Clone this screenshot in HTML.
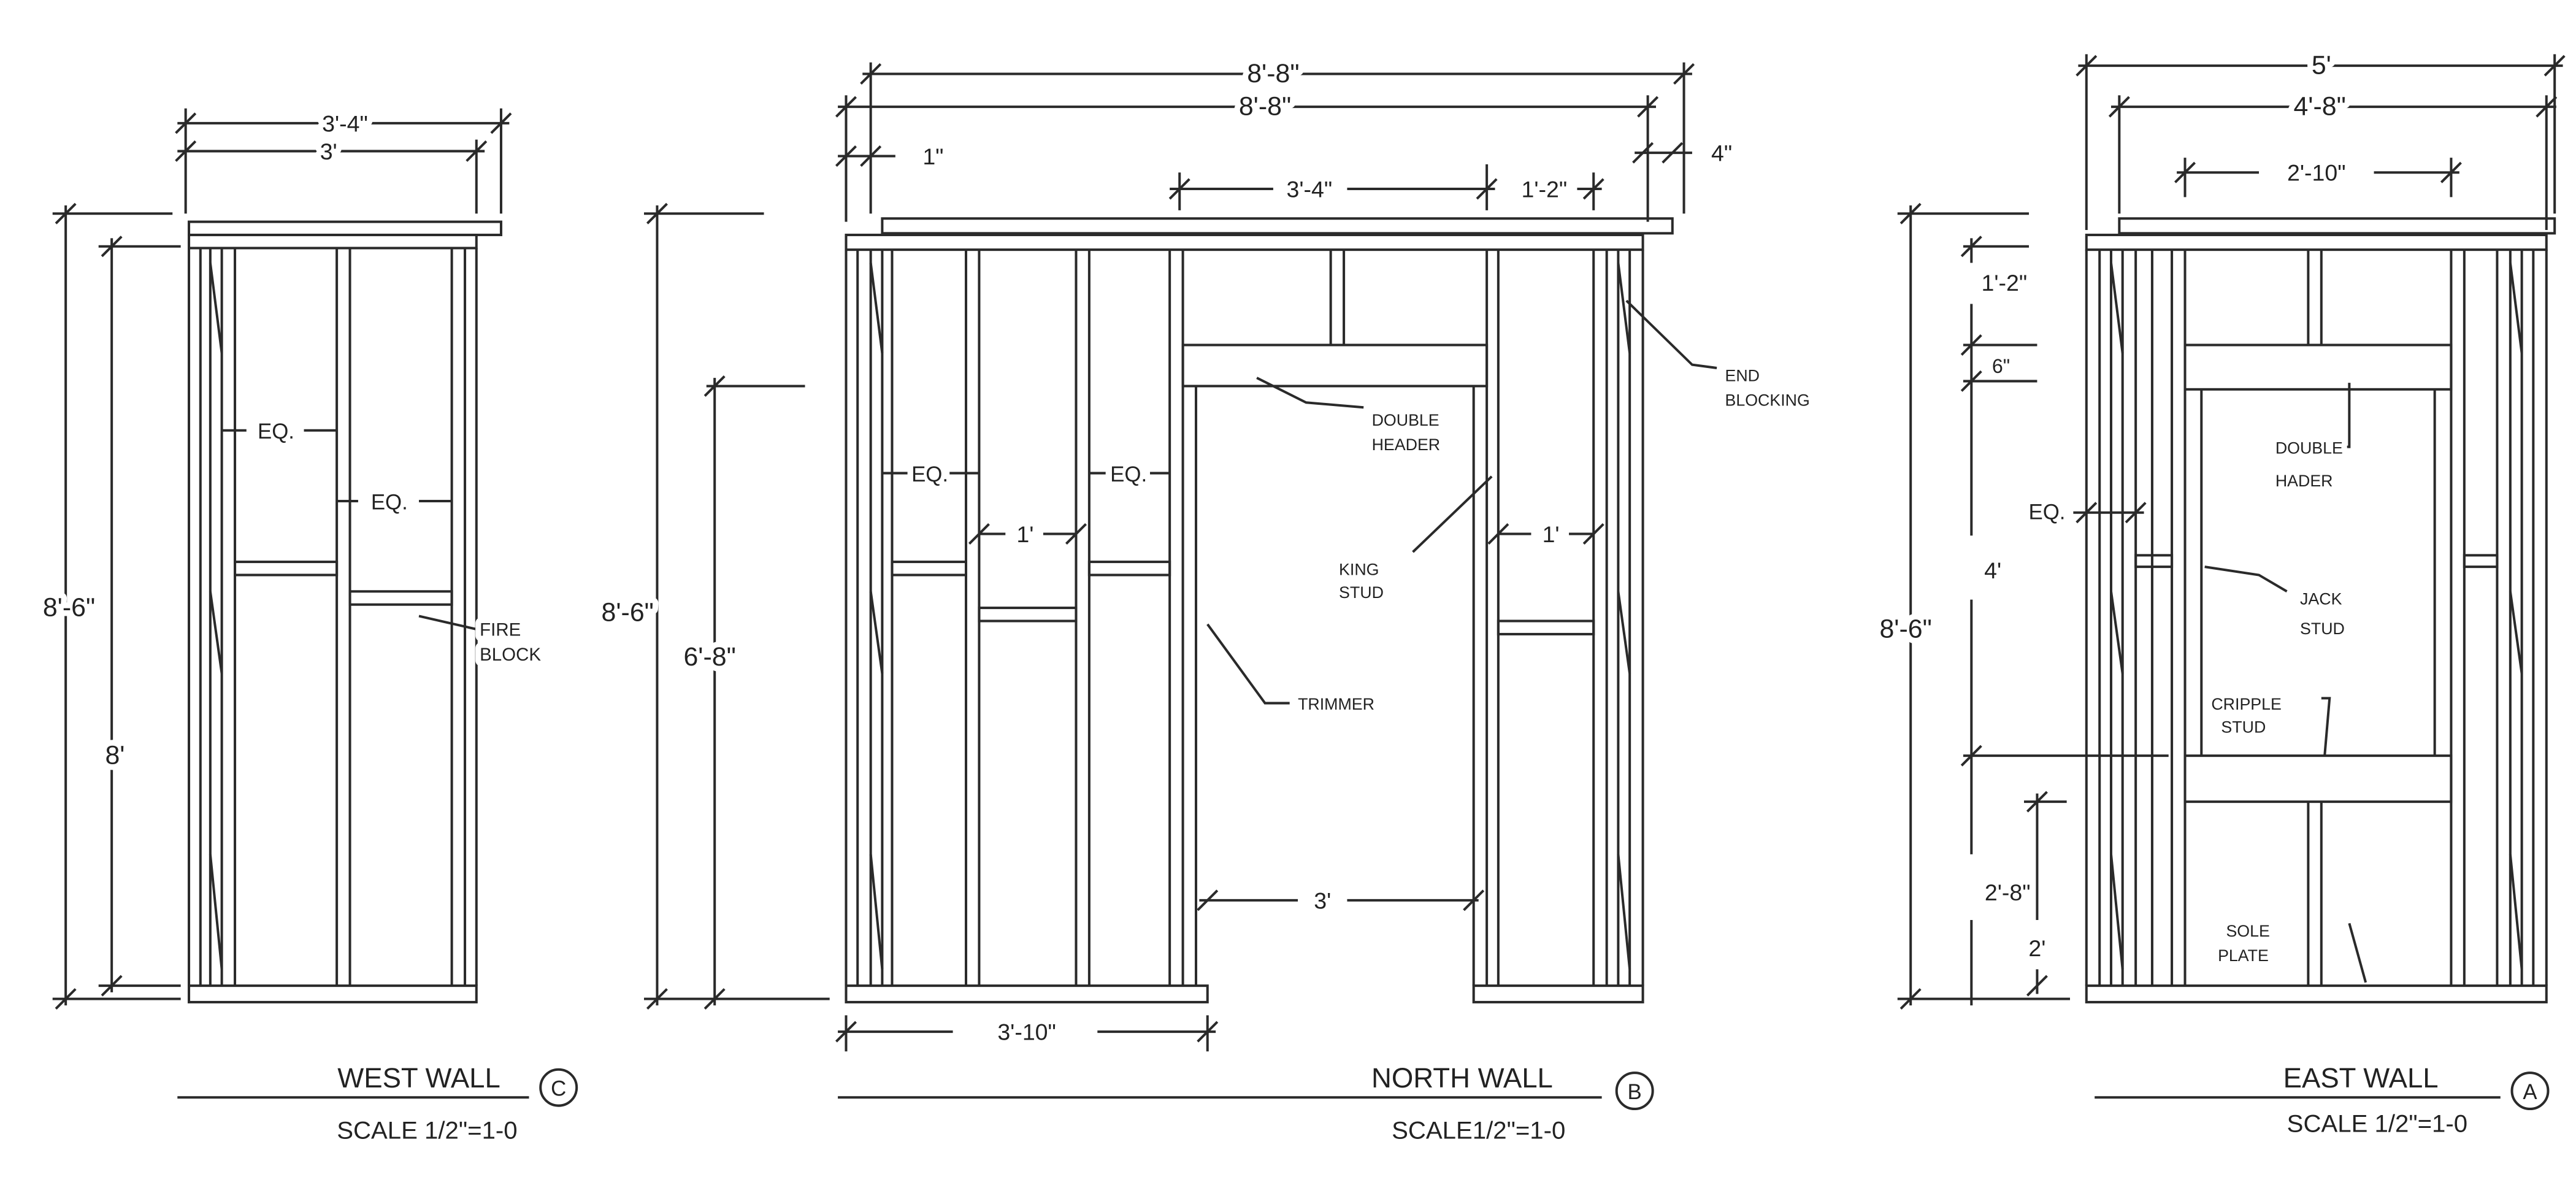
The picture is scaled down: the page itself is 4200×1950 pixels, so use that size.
<!DOCTYPE html>
<html><head><meta charset="utf-8"><style>
html,body{margin:0;padding:0;background:#fff;}
svg{display:block;}
text{font-family:"Liberation Sans",sans-serif;fill:#222;font-size:14px;stroke:#fff;stroke-width:7px;paint-order:stroke;stroke-linejoin:round;}
.t{text-anchor:middle;}
</style></head><body>
<svg width="4200" height="1950" viewBox="0 0 1568 728" xmlns="http://www.w3.org/2000/svg">
<rect width="1568" height="728" fill="#fff"/>
<g stroke="#2a2a2a" stroke-width="1.5" fill="none">
<!-- WEST WALL -->
<rect x="115" y="135" width="190" height="8"/>
<rect x="115" y="143" width="175" height="8"/>
<rect x="115" y="600" width="175" height="10"/>
<line x1="115" y1="151" x2="115" y2="600"/><line x1="122" y1="151" x2="122" y2="600"/>
<line x1="128" y1="151" x2="128" y2="600"/><line x1="135" y1="151" x2="135" y2="600"/>
<line x1="143" y1="151" x2="143" y2="600"/>
<line x1="205" y1="151" x2="205" y2="600"/><line x1="213" y1="151" x2="213" y2="600"/>
<line x1="275" y1="151" x2="275" y2="600"/><line x1="283" y1="151" x2="283" y2="600"/><line x1="290" y1="151" x2="290" y2="600"/>
<path d="M128 160 L135 215 M128 360 L135 410 M128 520 L135 590"/>
<rect x="143" y="342" width="62" height="8"/>
<rect x="213" y="360" width="62" height="8"/>
<line x1="108" y1="75" x2="310" y2="75"/><line x1="108" y1="92" x2="295" y2="92"/>
<line x1="113" y1="66" x2="113" y2="130"/><line x1="305" y1="66" x2="305" y2="130"/><line x1="290" y1="85" x2="290" y2="130"/>
<path d="M107 81 L119 69 M299 81 L311 69 M107 98 L119 86 M284 98 L296 86"/>
<line x1="40" y1="125" x2="40" y2="612"/><line x1="32" y1="130" x2="105" y2="130"/><line x1="32" y1="608" x2="110" y2="608"/>
<line x1="68" y1="145" x2="68" y2="604"/><line x1="60" y1="150" x2="110" y2="150"/><line x1="60" y1="600" x2="110" y2="600"/>
<path d="M34 136 L46 124 M34 614 L46 602 M62 156 L74 144 M62 606 L74 594"/>
<line x1="135" y1="262" x2="150" y2="262"/><line x1="185" y1="262" x2="205" y2="262"/>
<line x1="205" y1="305" x2="218" y2="305"/><line x1="255" y1="305" x2="275" y2="305"/>
<path d="M255 375 L290 383"/>
<line x1="108" y1="668" x2="322" y2="668"/>
<circle cx="340" cy="662" r="11"/>

<!-- NORTH WALL -->
<rect x="537" y="133" width="481" height="9"/>
<rect x="515" y="143" width="485" height="9"/>
<rect x="515" y="600" width="220" height="10"/>
<rect x="897" y="600" width="103" height="10"/>
<line x1="515" y1="152" x2="515" y2="600"/><line x1="522" y1="152" x2="522" y2="600"/>
<line x1="530" y1="152" x2="530" y2="600"/><line x1="537" y1="152" x2="537" y2="600"/><line x1="543" y1="152" x2="543" y2="600"/>
<path d="M530 160 L537 215 M530 360 L537 410 M530 520 L537 590"/>
<line x1="588" y1="152" x2="588" y2="600"/><line x1="596" y1="152" x2="596" y2="600"/>
<line x1="655" y1="152" x2="655" y2="600"/><line x1="663" y1="152" x2="663" y2="600"/>
<line x1="712" y1="152" x2="712" y2="600"/><line x1="720" y1="152" x2="720" y2="600"/><line x1="728" y1="235" x2="728" y2="600"/>
<rect x="720" y="210" width="185" height="25"/>
<line x1="810" y1="152" x2="810" y2="210"/><line x1="818" y1="152" x2="818" y2="210"/>
<line x1="897" y1="235" x2="897" y2="600"/><line x1="905" y1="152" x2="905" y2="600"/><line x1="912" y1="152" x2="912" y2="600"/>
<line x1="970" y1="152" x2="970" y2="600"/><line x1="978" y1="152" x2="978" y2="600"/>
<line x1="985" y1="152" x2="985" y2="600"/><line x1="992" y1="152" x2="992" y2="600"/><line x1="1000" y1="152" x2="1000" y2="600"/>
<path d="M985 160 L992 215 M985 360 L992 410 M985 520 L992 590"/>
<rect x="543" y="342" width="45" height="8"/>
<rect x="596" y="370" width="59" height="8"/>
<rect x="663" y="342" width="49" height="8"/>
<rect x="912" y="378" width="58" height="8"/>
<line x1="525" y1="45" x2="1030" y2="45"/><line x1="510" y1="65" x2="1008" y2="65"/>
<line x1="530" y1="38" x2="530" y2="130"/><line x1="1025" y1="38" x2="1025" y2="130"/>
<line x1="515" y1="58" x2="515" y2="135"/><line x1="1003" y1="58" x2="1003" y2="135"/>
<path d="M524 51 L536 39 M1019 51 L1031 39 M509 71 L521 59 M997 71 L1009 59"/>
<line x1="510" y1="95" x2="545" y2="95"/><path d="M509 101 L521 89 M524 101 L536 89"/>
<line x1="995" y1="93" x2="1030" y2="93"/><path d="M994 99 L1006 87 M1012 99 L1024 87"/>
<line x1="712" y1="115" x2="775" y2="115"/><line x1="820" y1="115" x2="910" y2="115"/><line x1="960" y1="115" x2="975" y2="115"/>
<line x1="718" y1="105" x2="718" y2="128"/><line x1="905" y1="100" x2="905" y2="128"/><line x1="970" y1="105" x2="970" y2="128"/>
<path d="M712 121 L724 109 M899 121 L911 109 M964 121 L976 109"/>
<line x1="400" y1="125" x2="400" y2="612"/><line x1="392" y1="130" x2="465" y2="130"/><line x1="392" y1="608" x2="505" y2="608"/>
<path d="M394 136 L406 124 M394 614 L406 602"/>
<line x1="435" y1="230" x2="435" y2="612"/><line x1="430" y1="235" x2="490" y2="235"/>
<path d="M429 241 L441 229 M429 614 L441 602"/>
<line x1="537" y1="288" x2="553" y2="288"/><line x1="578" y1="288" x2="596" y2="288"/>
<line x1="663" y1="288" x2="673" y2="288"/><line x1="700" y1="288" x2="712" y2="288"/>
<line x1="596" y1="325" x2="612" y2="325"/><line x1="635" y1="325" x2="655" y2="325"/>
<line x1="912" y1="325" x2="932" y2="325"/><line x1="955" y1="325" x2="970" y2="325"/>
<path d="M590 331 L602 319 M649 331 L661 319 M906 331 L918 319 M964 331 L976 319"/>
<line x1="730" y1="548" x2="790" y2="548"/><line x1="820" y1="548" x2="900" y2="548"/>
<path d="M729 554 L741 542 M891 554 L903 542"/>
<line x1="510" y1="628" x2="580" y2="628"/><line x1="668" y1="628" x2="740" y2="628"/>
<line x1="515" y1="618" x2="515" y2="640"/><line x1="735" y1="618" x2="735" y2="640"/>
<path d="M509 634 L521 622 M729 634 L741 622"/>
<path d="M765 230 L795 245 L830 248"/>
<path d="M908 290 L860 336"/>
<path d="M735 380 L770 428 L785 428"/>
<path d="M990 183 L1030 222 L1045 224"/>
<line x1="510" y1="668" x2="975" y2="668"/>
<circle cx="995" cy="664" r="11"/>

<!-- EAST WALL -->
<rect x="1290" y="133" width="265" height="9"/>
<rect x="1270" y="143" width="280" height="9"/>
<rect x="1270" y="600" width="280" height="10"/>
<line x1="1270" y1="152" x2="1270" y2="600"/><line x1="1278" y1="152" x2="1278" y2="600"/>
<line x1="1285" y1="152" x2="1285" y2="600"/><line x1="1292" y1="152" x2="1292" y2="600"/>
<path d="M1285 160 L1292 215 M1285 360 L1292 410 M1285 520 L1292 590"/>
<line x1="1300" y1="152" x2="1300" y2="600"/><line x1="1310" y1="152" x2="1310" y2="600"/>
<line x1="1322" y1="152" x2="1322" y2="600"/><line x1="1330" y1="152" x2="1330" y2="600"/><line x1="1340" y1="237" x2="1340" y2="460"/>
<rect x="1330" y="210" width="162" height="27"/>
<rect x="1330" y="460" width="162" height="28"/>
<line x1="1405" y1="152" x2="1405" y2="210"/><line x1="1413" y1="152" x2="1413" y2="210"/>
<line x1="1405" y1="488" x2="1405" y2="600"/><line x1="1413" y1="488" x2="1413" y2="600"/>
<line x1="1482" y1="237" x2="1482" y2="460"/><line x1="1492" y1="152" x2="1492" y2="600"/><line x1="1500" y1="152" x2="1500" y2="600"/>
<line x1="1520" y1="152" x2="1520" y2="600"/><line x1="1528" y1="152" x2="1528" y2="600"/>
<line x1="1535" y1="152" x2="1535" y2="600"/><line x1="1542" y1="152" x2="1542" y2="600"/><line x1="1550" y1="152" x2="1550" y2="600"/>
<path d="M1528 160 L1535 215 M1528 360 L1535 410 M1528 520 L1535 590"/>
<rect x="1300" y="338" width="22" height="7"/>
<rect x="1500" y="338" width="20" height="7"/>
<line x1="1265" y1="40" x2="1560" y2="40"/><line x1="1285" y1="65" x2="1556" y2="65"/>
<line x1="1270" y1="33" x2="1270" y2="140"/><line x1="1555" y1="33" x2="1555" y2="130"/>
<line x1="1290" y1="58" x2="1290" y2="130"/><line x1="1550" y1="58" x2="1550" y2="140"/>
<path d="M1264 46 L1276 34 M1549 46 L1561 34 M1284 71 L1296 59 M1544 71 L1556 59"/>
<line x1="1325" y1="105" x2="1375" y2="105"/><line x1="1445" y1="105" x2="1497" y2="105"/>
<line x1="1330" y1="96" x2="1330" y2="120"/><line x1="1492" y1="96" x2="1492" y2="120"/>
<path d="M1324 111 L1336 99 M1486 111 L1498 99"/>
<line x1="1163" y1="125" x2="1163" y2="612"/><line x1="1155" y1="130" x2="1235" y2="130"/><line x1="1155" y1="608" x2="1260" y2="608"/>
<path d="M1157 136 L1169 124 M1157 614 L1169 602"/>
<line x1="1200" y1="145" x2="1200" y2="160"/><line x1="1200" y1="185" x2="1200" y2="326"/><line x1="1200" y1="365" x2="1200" y2="520"/><line x1="1200" y1="560" x2="1200" y2="612"/>
<line x1="1195" y1="150" x2="1235" y2="150"/><line x1="1195" y1="210" x2="1240" y2="210"/><line x1="1195" y1="232" x2="1240" y2="232"/><line x1="1195" y1="460" x2="1320" y2="460"/>
<path d="M1194 216 L1206 204 M1194 238 L1206 226 M1194 466 L1206 454 M1194 156 L1206 144"/>
<line x1="1240" y1="483" x2="1240" y2="560"/><line x1="1240" y1="590" x2="1240" y2="605"/><line x1="1232" y1="488" x2="1258" y2="488"/>
<path d="M1234 494 L1246 482 M1234 606 L1246 594"/>
<line x1="1262" y1="312" x2="1305" y2="312"/><path d="M1264 318 L1276 306 M1294 318 L1306 306"/>
<path d="M1430 233 L1430 272 L1420 272"/>
<path d="M1342 345 L1375 350 L1392 360"/>
<path d="M1413 425 L1418 425 L1415 460"/>
<path d="M1430 562 L1440 598"/>
<line x1="1275" y1="668" x2="1522" y2="668"/>
<circle cx="1540" cy="664" r="11"/>
</g>
<g>
<text class="t" x="210" y="80">3'-4"</text>
<text class="t" x="200" y="97">3'</text>
<text class="t" x="42" y="375" style="font-size:16px">8'-6"</text>
<text class="t" x="70" y="465" style="font-size:16px">8'</text>
<text class="t" x="168" y="267" style="font-size:13px">EQ.</text>
<text class="t" x="237" y="310" style="font-size:13px">EQ.</text>
<text x="292" y="387" style="font-size:11px">FIRE</text>
<text x="292" y="402" style="font-size:11px">BLOCK</text>
<text class="t" x="255" y="662" style="font-size:17px">WEST WALL</text>
<text class="t" x="340" y="667" style="font-size:13px">C</text>
<text class="t" x="260" y="693" style="font-size:15px">SCALE 1/2"=1-0</text>

<text class="t" x="775" y="50" style="font-size:16px">8'-8"</text>
<text class="t" x="770" y="70" style="font-size:16px">8'-8"</text>
<text class="t" x="568" y="100">1"</text>
<text class="t" x="1048" y="98">4"</text>
<text class="t" x="797" y="120">3'-4"</text>
<text class="t" x="940" y="120">1'-2"</text>
<text class="t" x="382" y="378" style="font-size:16px">8'-6"</text>
<text class="t" x="432" y="405" style="font-size:16px">6'-8"</text>
<text class="t" x="566" y="293" style="font-size:13px">EQ.</text>
<text class="t" x="687" y="293" style="font-size:13px">EQ.</text>
<text class="t" x="624" y="330">1'</text>
<text class="t" x="944" y="330">1'</text>
<text class="t" x="805" y="553">3'</text>
<text class="t" x="625" y="633">3'-10"</text>
<text x="835" y="259" style="font-size:10px">DOUBLE</text>
<text x="835" y="274" style="font-size:10px">HEADER</text>
<text x="815" y="350" style="font-size:10px">KING</text>
<text x="815" y="364" style="font-size:10px">STUD</text>
<text x="790" y="432" style="font-size:10px">TRIMMER</text>
<text x="1050" y="232" style="font-size:10px">END</text>
<text x="1050" y="247" style="font-size:10px">BLOCKING</text>
<text class="t" x="890" y="662" style="font-size:17px">NORTH WALL</text>
<text class="t" x="995" y="669" style="font-size:13px">B</text>
<text class="t" x="900" y="693" style="font-size:15px">SCALE1/2"=1-0</text>

<text class="t" x="1413" y="45" style="font-size:16px">5'</text>
<text class="t" x="1412" y="70" style="font-size:16px">4'-8"</text>
<text class="t" x="1410" y="110">2'-10"</text>
<text class="t" x="1160" y="388" style="font-size:16px">8'-6"</text>
<text class="t" x="1220" y="177">1'-2"</text>
<text class="t" x="1218" y="227" style="font-size:12px">6"</text>
<text class="t" x="1213" y="352">4'</text>
<text class="t" x="1222" y="548">2'-8"</text>
<text class="t" x="1240" y="582">2'</text>
<text class="t" x="1246" y="316" style="font-size:13px">EQ.</text>
<text x="1385" y="276" style="font-size:10px">DOUBLE</text>
<text x="1385" y="296" style="font-size:10px">HADER</text>
<text x="1400" y="368" style="font-size:10px">JACK</text>
<text x="1400" y="386" style="font-size:10px">STUD</text>
<text x="1346" y="432" style="font-size:10px">CRIPPLE</text>
<text x="1352" y="446" style="font-size:10px">STUD</text>
<text x="1355" y="570" style="font-size:10px">SOLE</text>
<text x="1350" y="585" style="font-size:10px">PLATE</text>
<text class="t" x="1437" y="662" style="font-size:17px">EAST WALL</text>
<text class="t" x="1540" y="669" style="font-size:13px">A</text>
<text class="t" x="1447" y="689" style="font-size:15px">SCALE 1/2"=1-0</text>
</g>
</svg>
</body></html>
